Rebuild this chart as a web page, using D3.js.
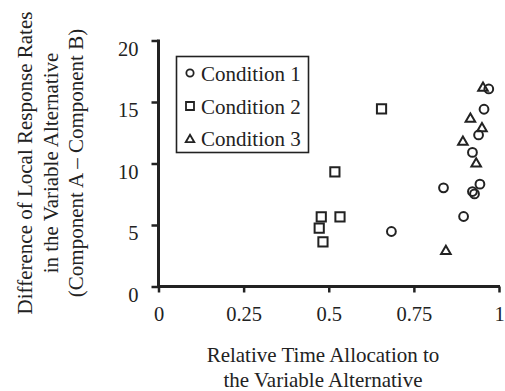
<!DOCTYPE html>
<html>
<head>
<meta charset="utf-8">
<script src="https://cdn.jsdelivr.net/npm/d3@7"></script>
<style>
  html, body { margin: 0; padding: 0; background: #fff; }
  svg text { font-family: "Liberation Serif", "Times New Roman", serif; fill: #222; }
</style>
</head>
<body>
<svg id="chart" width="505" height="391"></svg>
<script>
// Condition 1 (circles)
const cond1X = [0.970, 0.956, 0.940, 0.922, 0.837, 0.944, 0.922, 0.928, 0.896, 0.684];
const cond1Y = [16.06, 14.41, 12.32, 10.90, 8.02, 8.32, 7.72, 7.53, 5.69, 4.47];
// Condition 2 (squares)
const cond2X = [0.655, 0.518, 0.478, 0.533, 0.472, 0.483];
const cond2Y = [14.44, 9.32, 5.66, 5.66, 4.74, 3.63];
// Condition 3 (triangles)
const cond3X = [0.953, 0.916, 0.950, 0.894, 0.933, 0.844];
const cond3Y = [16.25, 13.73, 12.95, 11.86, 10.09, 2.98];

const xTicks = [0, 0.25, 0.5, 0.75, 1];
const xTickLabels = ["0", "0.25", "0.5", "0.75", "1"];
const yTicks = [0, 5, 10, 15, 20];
const seriesNames = ["Condition 1", "Condition 2", "Condition 3"];

const ink = "#222";
const svg = d3.select("#chart");

const x = d3.scaleLinear().domain([0, 1]).range([158.5, 499]);
const y = d3.scaleLinear().domain([0, 20]).range([286.5, 40.5]);

// Axes
const xAxis = d3.axisBottom(x).tickValues(xTicks).tickFormat((d, i) => xTickLabels[i])
  .tickSize(6).tickSizeOuter(0);
const gx = svg.append("g").attr("transform", `translate(0,${y(0)})`).call(xAxis);
gx.select(".domain").attr("stroke", ink).attr("stroke-width", 3)
  .attr("d", `M${x(0) - 1.5},0H${x(1) + 1}`);
gx.selectAll(".tick line").attr("stroke", ink).attr("stroke-width", 2.5);
gx.selectAll(".tick text").attr("font-size", 20.5)
  .attr("fill", ink).attr("dy", null).attr("y", 34.5);

const yAxis = d3.axisLeft(y).tickValues(yTicks).tickSize(7).tickSizeOuter(0);
const gy = svg.append("g").attr("transform", `translate(${x(0)},0)`).call(yAxis);
gy.select(".domain").attr("stroke", ink).attr("stroke-width", 3)
  .attr("d", `M0,${y(20) - 1}V${y(0)}`);
gy.selectAll(".tick line").attr("stroke", ink).attr("stroke-width", 2.5);
gy.selectAll(".tick text").attr("font-size", 20.5)
  .attr("fill", ink).attr("dy", null).attr("y", 14.5).attr("x", -20);

// Axis titles
const xTitle = ["Relative Time Allocation to", "the Variable Alternative"];
const xTitleBase = [362, 386.5];
xTitle.forEach((t, i) => {
  svg.append("text").attr("text-anchor", "middle").attr("font-size", 21)
    .attr("x", 323).attr("y", xTitleBase[i]).text(t);
});

const yTitle = ["Difference of Local Response Rates", "in the Variable Alternative", "(Component A \u2013 Component B)"];
const yTitleBase = [32, 57.5, 82.5];
yTitle.forEach((t, i) => {
  svg.append("text").attr("text-anchor", "middle").attr("font-size", 21)
    .attr("transform", `translate(${yTitleBase[i]},163) rotate(-90)`).text(t);
});

// Marker shapes
function markerPath(kind, s) {
  const p = d3.path();
  if (kind === 0) {
    p.arc(0, 0, s / 2, 0, 2 * Math.PI);
    p.closePath();
  } else if (kind === 1) {
    p.rect(-s / 2, -s / 2, s, s);
  } else {
    const h = s * Math.sqrt(3) / 2;
    p.moveTo(0, -h / 2);
    p.lineTo(s / 2, h / 2);
    p.lineTo(-s / 2, h / 2);
    p.closePath();
  }
  return p.toString();
}
const markerSize = [8.8, 9.2, 9.6];

const series = [
  { xs: cond1X, ys: cond1Y },
  { xs: cond2X, ys: cond2Y },
  { xs: cond3X, ys: cond3Y }
];

series.forEach((s, k) => {
  svg.append("g").selectAll("path")
    .data(s.xs.map((v, i) => [v, s.ys[i]]))
    .join("path")
    .attr("d", markerPath(k, markerSize[k]))
    .attr("transform", d => `translate(${x(d[0])},${y(d[1])})`)
    .attr("fill", "none")
    .attr("stroke", ink)
    .attr("stroke-width", 2);
});

// Legend
const lg = svg.append("g");
lg.append("rect").attr("x", 176.5).attr("y", 56.5).attr("width", 132).attr("height", 96)
  .attr("fill", "#fff").attr("stroke", ink).attr("stroke-width", 1.6);
const legendRowY = [73, 106, 138.5];
seriesNames.forEach((name, k) => {
  lg.append("path").attr("d", markerPath(k, [7.3, 8, 8.6][k]))
    .attr("transform", `translate(190,${legendRowY[k]})`)
    .attr("fill", "none").attr("stroke", ink).attr("stroke-width", 1.8);
  lg.append("text").attr("x", 201).attr("y", legendRowY[k] + 7.5)
    .attr("font-size", 21).text(name);
});
</script>
</body>
</html>
